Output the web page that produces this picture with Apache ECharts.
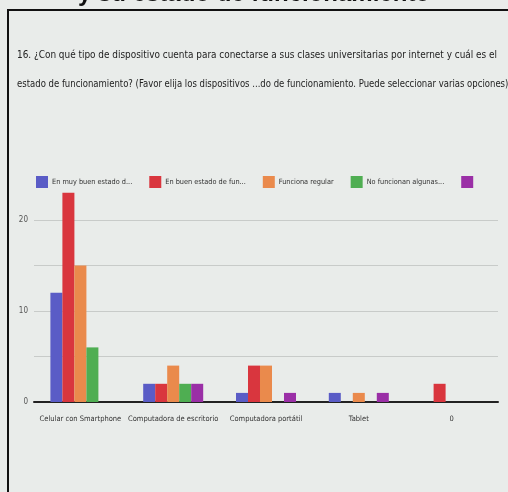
<!DOCTYPE html>
<html><head><meta charset="utf-8">
<script src="https://cdn.jsdelivr.net/npm/echarts@6/dist/echarts.min.js"></script>
<style>html,body{margin:0;padding:0;background:#e9ecea;}#c{width:508px;height:492px;}</style>
</head><body><div id="c"></div>
<script>
const categories = ['Celular con Smartphone', 'Computadora de escritorio', 'Computadora portátil', 'Tablet', '0'];
const seriesNames = ['En muy buen estado d...', 'En buen estado de fun...', 'Funciona regular', 'No funcionan algunas...', ''];
const muyBuen = [12, 2, 1, 1, 0];
const buen = [23, 2, 4, 0, 2];
const regular = [15, 4, 4, 1, 0];
const noFunc = [6, 2, 0, 0, 0];
const otro = [0, 2, 1, 1, 0];
const yTicks = [0, 10, 20];
const colors = ['#5a5cc6', '#d9363e', '#ea8a4c', '#4fae52', '#9a2fa6'];
const data = [muyBuen, buen, regular, noFunc, otro];

const fam = '"DejaVu Sans Condensed","DejaVu Sans",sans-serif';
const chart = echarts.init(document.getElementById('c'));
chart.setOption({
  backgroundColor: '#e9ecea',
  animation: false,
  color: colors,
  graphic: [
    {type: 'text', left: 'center', top: -18, style: {text: 'y su estado de funcionamiento', font: 'bold 24px "Liberation Sans",sans-serif', fill: '#111'}},
    {type: 'rect', shape: {x: 8, y: 10, width: 520, height: 500}, style: {fill: 'none', stroke: '#111', lineWidth: 2}},
    {type: 'text', x: 17, y: 50, scaleX: 0.9, style: {text: '16. ¿Con qué tipo de dispositivo cuenta para conectarse a sus clases universitarias por internet y cuál es el', font: 'condensed 11px ' + fam, fill: '#222'}},
    {type: 'text', x: 17, y: 79, scaleX: 0.86, style: {text: 'estado de funcionamiento? (Favor elija los dispositivos ...do de funcionamiento. Puede seleccionar varias opciones)', font: 'condensed 11px ' + fam, fill: '#222'}}
  ],
  legend: {
    left: 36, top: 176, padding: 0, itemWidth: 12, itemHeight: 12, itemGap: 17, width: 480,
    icon: 'rect',
    textStyle: {fontFamily: fam, fontStyle: 'condensed', fontSize: 7.3, color: '#333', padding: [0, 0, 0, -1]},
    data: seriesNames.map((n, i) => ({name: n || ' ', icon: 'rect'}))
  },
  grid: {left: 34, right: 10, top: 174.5, bottom: 90},
  xAxis: {
    type: 'category', data: categories,
    axisLine: {lineStyle: {color: '#222', width: 2}},
    axisTick: {show: false},
    axisLabel: {interval: 0, fontFamily: fam, fontStyle: 'condensed', fontSize: 7.5, color: '#333', margin: 13}
  },
  yAxis: {
    type: 'value', min: 0, max: 25, interval: 5,
    axisLine: {show: false}, axisTick: {show: false},
    axisLabel: {fontFamily: fam, fontStyle: 'condensed', fontSize: 8, color: '#555', margin: 6,
      formatter: v => yTicks.includes(v) ? String(v) : ''},
    splitLine: {show: true, showMinLine: false, showMaxLine: false, lineStyle: {color: '#c8cbc9', width: 1}}
  },
  series: data.map((d, i) => ({
    name: seriesNames[i] || ' ', type: 'bar', data: d, barWidth: 12, barGap: '0%',
    itemStyle: {color: colors[i]}
  }))
});
</script></body></html>
